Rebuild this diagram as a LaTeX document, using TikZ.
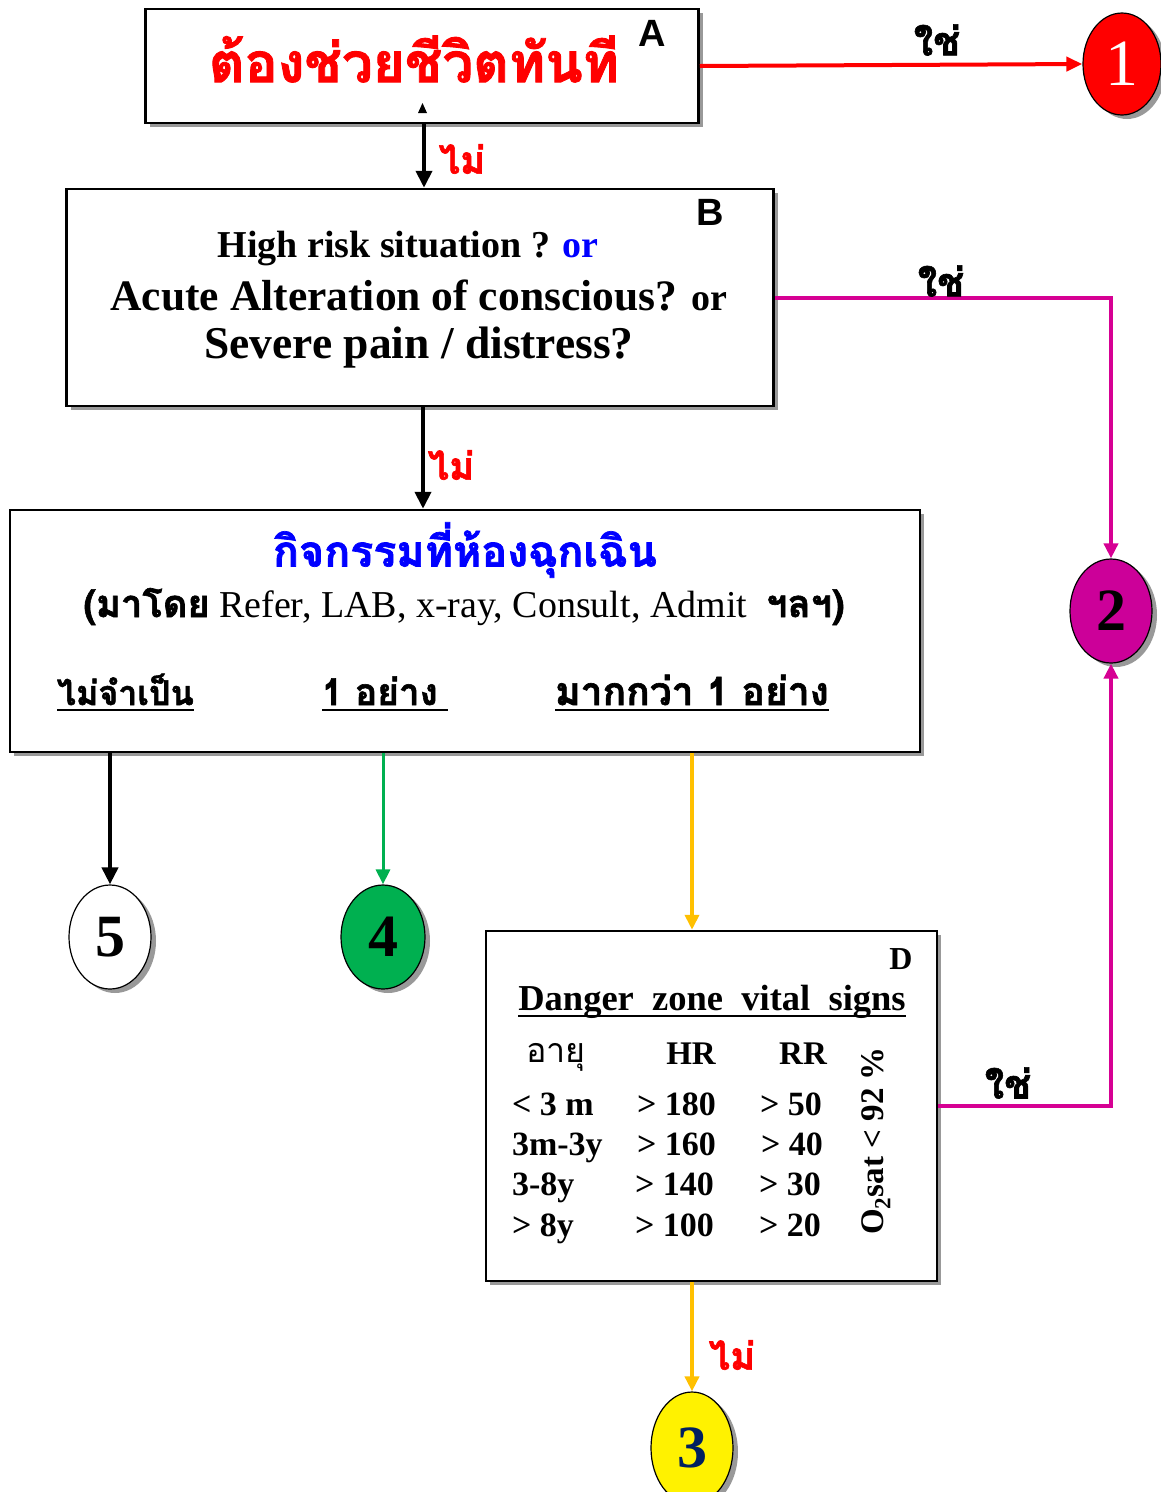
\documentclass[tikz,border=0pt]{standalone}
\usepackage{fontspec}
\setmainfont{Liberation Serif}
\newfontfamily\thai[Script=Thai, BoldFeatures={FakeBold=1.6}]{Loma}
\newfontfamily\sansb{Liberation Sans}
\usetikzlibrary{shapes.geometric,arrows.meta,shadows,calc}

\definecolor{lred}{RGB}{255,0,0}
\definecolor{lmag}{RGB}{214,0,147}
\definecolor{cmag}{RGB}{204,0,153}
\definecolor{lgreen}{RGB}{0,176,80}
\definecolor{lgold}{RGB}{255,192,0}
\definecolor{navy}{RGB}{0,32,96}
\definecolor{tblue}{RGB}{0,0,255}

\newcommand\setfs[1]{\fontsize{#1}{#1}\selectfont}

\tikzset{
  boxst/.style={draw, line width=2.5pt, fill=white, inner sep=0pt,
    drop shadow={shadow xshift=4pt, shadow yshift=-4pt, fill=black!40, opacity=1}},
  circst/.style={ellipse, draw, line width=1.2pt, inner sep=0pt,
    drop shadow={shadow xshift=5pt, shadow yshift=-4pt, fill=black!40, opacity=1}},
  txt/.style={inner sep=0pt, outer sep=0pt},
  conn/.style={line width=4pt, -{Triangle[width=16pt,length=17pt]}},
  yes/.style={txt, font=\thai\bfseries\setfs{40}},
  no/.style={txt, text=lred, font=\thai\bfseries\setfs{38}},
  uline/.style={line width=1.6pt},
}

\begin{document}
\begin{tikzpicture}[x=1pt,y=-1pt]
\useasboundingbox (0,0) rectangle (1161,1492);

% ---- boxes ----
\node[boxst, minimum width=553pt, minimum height=114pt] (A) at (422,66) {};
\node[boxst, minimum width=707pt, minimum height=217pt] (B) at (420,297.5) {};
\node[boxst, minimum width=910pt, minimum height=242pt] (C) at (465,631) {};
\node[boxst, minimum width=451pt, minimum height=350pt] (D) at (711.5,1106) {};

% ---- outcome circles ----
\node[circst, fill=lred, minimum width=78pt, minimum height=102pt] (c1) at (1122,64)
  {\color{white}\setfs{66}1};
\node[circst, fill=cmag, minimum width=82pt, minimum height=104pt] (c2) at (1111,611)
  {\bfseries\setfs{60}2};
\node[circst, fill=yellow, minimum width=82pt, minimum height=112pt] (c3) at (692,1448)
  {\color{navy}\bfseries\setfs{60}3};
\node[circst, fill=lgreen, minimum width=84pt, minimum height=104pt] (c4) at (383,937)
  {\bfseries\setfs{60}4};
\node[circst, fill=white, minimum width=82pt, minimum height=104pt] (c5) at (110,937)
  {\bfseries\setfs{60}5};

% ---- box A ----
\node[txt, text=lred] (tA) at (414,59) {\thai\bfseries\setfs{55}ต้องช่วยชีวิตทันที};
\node[txt] (lA) at (652,33) {\sansb\bfseries\setfs{38}A};
\fill (418,113) -- (427,113) -- (422.5,103) -- cycle;

% ---- box B ----
\node[txt] (lB) at (710,212) {\sansb\bfseries\setfs{38}B};
\node[txt, anchor=base] (b1) at (408,257) {\bfseries\setfs{38}High risk situation ? \textcolor{tblue}{or}};
\node[txt, anchor=base] (b2) at (419,310) {\bfseries\setfs{43.5}Acute Alteration of conscious? {\setfs{38}or}};
\node[txt, anchor=base] (b3) at (419,358) {\bfseries\setfs{45.5}Severe pain / distress?};

% ---- box C ----
\node[txt, text=tblue] (tC) at (465,550) {\thai\bfseries\setfs{43}กิจกรรมที่ห้องฉุกเฉิน};
\node[txt, anchor=base] (c2l) at (464,617)
  {\setfs{38}{\thai\bfseries(มาโดย} Refer, LAB, x-ray, Consult, Admit\ \ {\thai\bfseries ฯลฯ)}};
\node[txt, anchor=base west] (o1) at (57,705) {\thai\bfseries\setfs{34}ไม่จำเป็น};
\node[txt, anchor=base west] (o2) at (322,705) {\thai\bfseries\setfs{37}1 อย่าง\hspace*{10pt}};
\node[txt, anchor=base west] (o3) at (555,705) {\thai\bfseries\setfs{39}มากกว่า 1 อย่าง};
\foreach \n in {o1,o2,o3}
  \draw[uline] ([yshift=-5pt]\n.base west) -- ([yshift=-5pt]\n.base east);

% ---- box D ----
\node[txt] (lD) at (901,959) {\bfseries\setfs{32}D};
\node[txt, anchor=base] (dz) at (712,1010) {\bfseries\setfs{36.5}Danger\ \ zone\ \ vital\ \ signs};
\draw[uline] ([yshift=-6pt]dz.base west) -- ([yshift=-6pt]dz.base east);

\node[txt, anchor=base] (hAge) at (556,1062) {\thai\setfs{34}อายุ};
\node[txt, anchor=base] (hHR) at (691,1064) {\bfseries\setfs{33}HR};
\node[txt, anchor=base] (hRR) at (803,1064) {\bfseries\setfs{33}RR};

\begin{scope}[every node/.style={txt, anchor=base west, font=\bfseries\setfs{34}}]
\node (r1a) at (512,1115) {< 3 m};
\node (r2a) at (512,1155) {3m-3y};
\node (r3a) at (512,1195) {3-8y};
\node (r4a) at (512,1236) {> 8y};
\node (r1b) at (637,1115) {> 180};
\node (r2b) at (637,1155) {> 160};
\node (r3b) at (635,1195) {> 140};
\node (r4b) at (635,1236) {> 100};
\node (r1c) at (760,1115) {> 50};
\node (r2c) at (761,1155) {> 40};
\node (r3c) at (759,1195) {> 30};
\node (r4c) at (759,1236) {> 20};
\end{scope}
\node[txt, rotate=90] (osat) at (876,1141) {\bfseries\setfs{33}O\textsubscript{2}sat < 92 \%};

% ---- connectors ----
\draw[conn] ([xshift=2pt]A.south) -- ([xshift=2pt]A.south |- B.north);
\node[no] (n1) at (462,159) {ไม่};
\draw[conn] ([xshift=3pt]B.south) -- ([xshift=3pt]B.south |- C.north);
\node[no] (n2) at (451,465) {ไม่};

\draw[conn, lred, -{Triangle[width=14pt,length=16pt]}] (A.east) -- (c1.west);
\node[yes] (y1) at (937,40) {ใช่};

\draw[conn, lmag, -{Triangle[width=14pt,length=15pt]}] (B.east) -- (c2.north |- B.east) -- (c2.north);
\node[yes] (y2) at (941,281) {ใช่};
\draw[conn, lmag, -{Triangle[width=14pt,length=15pt]}] (D.east) -- (c2.south |- D.east) -- (c2.south);
\node[yes] (y3) at (1008,1083) {ใช่};

\draw[conn] (c5.north |- C.south) -- (c5.north);
\draw[conn, lgreen, line width=3pt, -{Triangle[width=14pt,length=15pt]}] (c4.north |- C.south) -- (c4.north);
\draw[conn, lgold, -{Triangle[width=14pt,length=15pt]}] (c3.north |- C.south) -- (c3.north |- D.north);
\draw[conn, lgold, -{Triangle[width=14pt,length=15pt]}] (c3.north |- D.south) -- (c3.north);
\node[no] (n3) at (732,1355) {ไม่};
\end{tikzpicture}
\end{document}
